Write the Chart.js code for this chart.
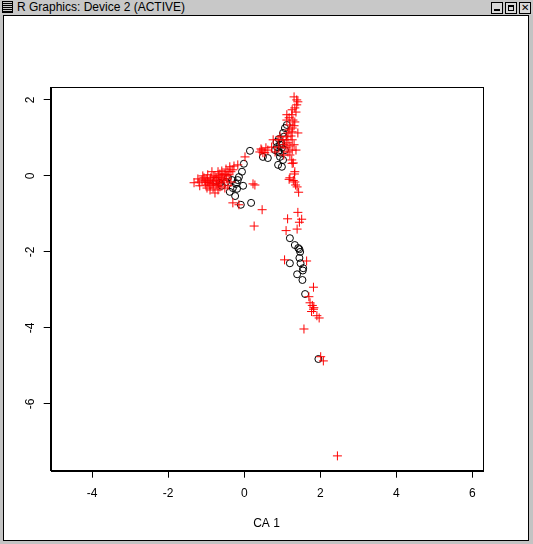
<!DOCTYPE html>
<html>
<head>
<meta charset="utf-8">
<title>R Graphics: Device 2 (ACTIVE)</title>
<script src="https://cdn.jsdelivr.net/npm/chart.js@4.4.1/dist/chart.umd.min.js"></script>
<style>
  body { margin: 0; width: 533px; height: 544px; background: #c3c3c3; position: relative; overflow: hidden; font-family: "Liberation Sans", Arial, sans-serif; }
  #titlebar { position: absolute; left: 0; top: 0; width: 533px; height: 15px; background: #c8c8c8; }
  #titlebar .menu { position: absolute; left: 2px; top: 1px; width: 11px; height: 12px; border: 1px solid #000; box-sizing: border-box;
    background: repeating-linear-gradient(#c8c8c8 0 1px, #000 1px 2px); }
  #titlebar .text { position: absolute; left: 17px; top: 0px; font-size: 12px; line-height: 15px; color: #000; }
  #titlebar .btn { position: absolute; top: 2px; width: 12px; height: 12px; border: 1px solid #000; box-sizing: border-box; background: #d8d8d8; font-size: 10px; line-height: 10px; text-align: center; }
  #win { position: absolute; left: 3px; top: 15px; width: 524px; height: 524px; border: 1px solid #000; background: #fff; }
  #chart { position: absolute; left: 0; top: 0; }
</style>
</head>
<body>
<div id="titlebar">
  <div class="menu"></div>
  <div class="text">R Graphics: Device 2 (ACTIVE)</div>
  <div class="btn" style="left:491px"><div style="position:absolute;left:2px;right:2px;bottom:2px;height:2px;background:#000"></div></div>
  <div class="btn" style="left:505px"><div style="position:absolute;left:2px;right:2px;top:2px;bottom:2px;border:1px solid #000;border-top-width:2px"></div></div>
  <div class="btn" style="left:519px">&#x2715;</div>
</div>
<div id="win"></div>
<canvas id="chart" width="533" height="544"></canvas>
<script>
// axis setup (CA 1 / CA 2 with equal aspect)
const xRange = [-5.09, 6.26];
const yRange = [-7.76, 2.34];
const xTicks = [-4, -2, 0, 2, 4, 6];
const yTicks = [-6, -4, -2, 0, 2];
const xTitle = "CA 1";

// column scores (red +)
const colX = [-1.32, -1.19, -1.11, -1.03, -0.98, -0.93, -0.88, -0.82, -0.77, -0.72, -0.67, -0.61, -0.56, -0.51,
  -1.01, -0.90, -0.82, -0.74, -0.69, -0.61, -0.53, -0.46, -0.40, -0.35, -0.30, -0.48, -0.38, -0.27, -0.17,
  -0.90, -1.09, -0.96, -0.85, -0.69, -0.59, -1.17, -0.77, -0.43, -0.51, -0.35, 0.02, 0.23, 0.47, 0.26,
  -0.30, -0.14, -0.80, -0.64,
  -1.06, -0.96, -0.85, -0.74, -0.67, -0.59, -1.03, -0.90, -0.80, -0.69, -0.98, -1.22, -0.48, -0.43, -0.64,
  1.38, 1.41, 1.38, 1.33, 1.12, 1.25, 1.28, 1.33, 1.20, 1.26, 1.18, 1.41, 1.15, 1.12, 1.02, 0.94, 1.15,
  0.76, 1.26, 1.31, 0.46, 0.41, 0.49, 0.72, 0.81, 1.15, 1.20, 1.25, 1.29, 1.33, 1.20, 1.33, 1.39, 0.28,
  0.57, 1.10, 1.04, 1.26, 1.20, 0.89, 0.91, 0.44, 0.54, 0.62, 1.36, 1.26, 1.31, 1.26, 1.12,
  1.18, 1.31, 1.10, 1.23, 1.36, 1.04,
  1.26, 1.32, 1.18, 1.29, 1.35, 1.43, 1.41, 1.51, 1.14, 1.45, 1.10, 1.39, 1.06, 1.64, 1.82, 1.70, 1.79,
  1.82, 1.77, 1.91, 1.97, 1.57, 2.01, 2.08, 2.45, 1.73, 1.83];
const colY = [-0.18, -0.16, -0.11, -0.13, -0.08, -0.18, -0.05, -0.13, -0.03, -0.11, 0.00, -0.05, 0.03, 0.05,
  -0.24, -0.26, -0.32, -0.24, -0.37, -0.18, -0.13, -0.08, 0.03, 0.11, 0.16, 0.18, 0.24, 0.26, 0.29,
  -0.37, 0.00, 0.03, 0.11, 0.11, 0.13, -0.26, -0.45, -0.26, -0.32, -0.16, 0.50, -0.21, -0.89, -1.32,
  -0.71, -0.76, -0.21, -0.29,
  -0.05, -0.16, -0.21, -0.05, -0.16, -0.11, -0.18, -0.11, 0.00, -0.26, -0.32, -0.08, 0.00, 0.11, 0.05,
  2.00, 1.95, 1.87, 1.79, 1.61, 1.61, 1.47, 1.42, 1.34, 1.26, 1.21, 1.13, 1.13, 1.03, 0.95, 1.03, 0.87,
  0.95, 0.95, 0.82, 0.68, 0.63, 0.61, 0.76, 0.63, 0.63, 0.55, 0.42, 0.34, 0.11, -0.05, -0.16, -0.29, -0.24,
  0.74, 0.74, 0.82, 0.68, 0.79, 0.95, 0.76, 0.71, 0.61, 0.68, 1.68, 1.74, 2.08, 1.16, 1.47,
  1.53, 1.32, 0.95, 1.05, 0.68, 0.55,
  0.33, 0.05, -0.09, -0.12, -0.24, -0.43, -0.96, -1.14, -1.13, -1.22, -1.44, -1.40, -2.21, -2.24, -2.93, -3.18, -3.41,
  -3.51, -3.57, -3.68, -3.74, -4.03, -4.76, -4.87, -7.37, -3.34, -3.47];

// row scores (black o)
const rowX = [0.15, -0.01, -0.06, -0.14, -0.03, -0.22, -0.38, -0.24, -0.09, 0.18, -0.19, -0.30, -0.48, -0.64,
  -0.74, -0.43, -0.32, -0.17, -0.59,
  1.12, 1.07, 1.02, 0.91, 0.85, 0.94, 0.99, 0.89, 0.81, 0.94, 1.02, 0.89, 0.99, 0.62, 0.49, 1.04, 0.97,
  1.07, 0.86, 0.94,
  1.20, 1.33, 1.42, 1.45, 1.47, 1.45, 1.48, 1.20, 1.55, 1.54, 1.39, 1.53, 1.60, 1.95];
const rowY = [0.66, 0.32, 0.11, -0.03, -0.26, -0.21, -0.42, -0.53, -0.76, -0.71, -0.34, -0.32, -0.16, -0.18,
  -0.13, -0.05, -0.11, -0.11, -0.26,
  1.34, 1.26, 1.13, 0.97, 0.89, 0.82, 0.74, 0.63, 0.68, 0.50, 0.42, 0.29, 0.24, 0.47, 0.50, 1.03, 0.87,
  0.68, 0.76, 0.61,
  -1.64, -1.82, -1.90, -1.93, -2.00, -2.16, -2.30, -2.30, -2.43, -2.49, -2.59, -2.74, -3.11, -4.82];

const toPoints = (xs, ys) => xs.map((x, i) => ({ x: x, y: ys[i] }));

// draws the full box round the plot region, like R's box()
const boxPlugin = {
  id: "box",
  afterDraw(chart) {
    const { ctx, chartArea: a } = chart;
    ctx.save();
    ctx.strokeStyle = "#000";
    ctx.lineWidth = 1;
    ctx.strokeRect(Math.round(a.left) + 0.5, Math.round(a.top) + 0.5, Math.round(a.right - a.left), Math.round(a.bottom - a.top));
    ctx.restore();
  }
};

Chart.defaults.font.family = "'Liberation Sans', Arial, sans-serif";
Chart.defaults.font.size = 12;
Chart.defaults.color = "#000";

new Chart(document.getElementById("chart"), {
  type: "scatter",
  data: {
    datasets: [
      {
        label: "columns",
        data: toPoints(colX, colY),
        pointStyle: "cross",
        pointRadius: 4.5,
        borderColor: "#ff0000",
        borderWidth: 1
      },
      {
        label: "rows",
        data: toPoints(rowX, rowY),
        pointStyle: "circle",
        pointRadius: 3.5,
        borderColor: "#000",
        backgroundColor: "rgba(0,0,0,0)",
        borderWidth: 1
      }
    ]
  },
  options: {
    responsive: false,
    devicePixelRatio: 1,
    animation: false,
    layout: { padding: { left: 0, top: 87, right: 50.7, bottom: 0 } },
    plugins: { legend: { display: false }, tooltip: { enabled: false } },
    scales: {
      x: {
        type: "linear",
        min: xRange[0],
        max: xRange[1],
        afterBuildTicks: s => { s.ticks = xTicks.map(v => ({ value: v })); },
        afterFit: s => { s.height = 73.3; },
        grid: { drawOnChartArea: false, drawTicks: true, tickLength: 7, tickColor: "#000" },
        border: { display: true, color: "#000" },
        ticks: { padding: 9, maxRotation: 0, callback: v => String(v) },
        title: { display: true, text: xTitle, padding: { top: 0, bottom: 13 } }
      },
      y: {
        type: "linear",
        min: yRange[0],
        max: yRange[1],
        afterBuildTicks: s => { s.ticks = yTicks.map(v => ({ value: v })); },
        afterFit: s => { s.width = 50.7; },
        grid: { drawOnChartArea: false, drawTicks: true, tickLength: 7, tickColor: "#000" },
        border: { display: true, color: "#000" },
        ticks: { padding: 8, minRotation: 90, maxRotation: 90, crossAlign: "center", callback: v => String(v) }
      }
    }
  },
  plugins: [boxPlugin]
});
</script>
</body>
</html>
